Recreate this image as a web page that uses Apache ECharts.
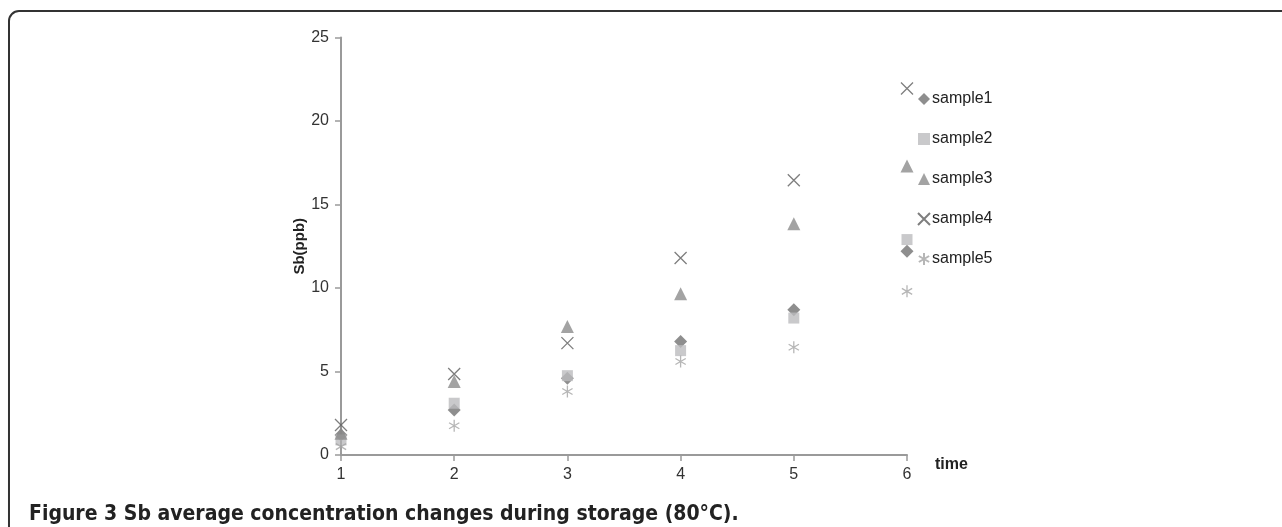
<!DOCTYPE html>
<html>
<head>
<meta charset="utf-8">
<script src="https://cdn.jsdelivr.net/npm/echarts@6/dist/echarts.min.js"></script>
<style>
html,body{margin:0;padding:0;background:#fff;}
#c{width:1282px;height:527px;}
</style>
</head>
<body>
<div id="c"></div>
<script>
const times = [1, 2, 3, 4, 5, 6];
const seriesNames = ['sample1', 'sample2', 'sample3', 'sample4', 'sample5'];
const sample1 = [1.2, 2.7, 4.6, 6.8, 8.7, 12.2];
const sample2 = [0.9, 3.1, 4.75, 6.25, 8.2, 12.9];
const sample3 = [1.3, 4.4, 7.7, 9.65, 13.85, 17.3];
const sample4 = [1.8, 4.85, 6.7, 11.8, 16.45, 21.95];
const sample5 = [0.5, 1.75, 3.8, 5.6, 6.45, 9.8];
const yTicks = [0, 5, 10, 15, 20, 25];
const caption = 'Figure 3 Sb average concentration changes during storage (80°C).';

const allValues = [sample1, sample2, sample3, sample4, sample5];
const styles = [
  {symbol: 'diamond', size: 13, itemStyle: {color: '#727272'}},
  {symbol: 'rect', size: 11, itemStyle: {color: '#bcbcbe'}},
  {symbol: 'triangle', size: 13, itemStyle: {color: '#8c8c8c'}},
  {symbol: 'path://M0,0L10,10M10,0L0,10', size: 12, itemStyle: {color: 'rgba(0,0,0,0)', borderColor: '#5e5e5e', borderWidth: 1.3}},
  {symbol: 'path://M5,0L5,10M0.7,2.5L9.3,7.5M0.7,7.5L9.3,2.5', size: 12, itemStyle: {color: 'rgba(0,0,0,0)', borderColor: '#a4a4a4', borderWidth: 1.3}}
];

const chart = echarts.init(document.getElementById('c'), null, {renderer: 'canvas'});
const font = 'Liberation Sans, Arial, sans-serif';
chart.setOption({
  animation: false,
  backgroundColor: '#fff',
  grid: {left: 341, right: 375, top: 37.5, bottom: 72, containLabel: false},
  xAxis: {
    type: 'value', min: 1, max: 6, interval: 1,
    name: 'time', nameLocation: 'end', nameGap: 28,
    nameTextStyle: {fontFamily: font, fontWeight: 'bold', fontSize: 16, color: '#222', verticalAlign: 'top', padding: [2, 0, 0, 0]},
    axisLine: {lineStyle: {color: '#9a9a9a', width: 2}},
    axisTick: {show: true, length: 6, lineStyle: {color: '#9a9a9a', width: 1.5}},
    axisLabel: {fontFamily: font, fontSize: 16, color: '#333', margin: 12},
    splitLine: {show: false}
  },
  yAxis: {
    type: 'value', min: yTicks[0], max: yTicks[yTicks.length - 1], interval: 5,
    name: 'Sb(ppb)', nameLocation: 'middle', nameGap: 34, nameRotate: 90,
    nameTextStyle: {fontFamily: font, fontWeight: 'bold', fontSize: 15, color: '#222'},
    axisLine: {show: true, lineStyle: {color: '#9a9a9a', width: 2}},
    axisTick: {show: true, length: 6, lineStyle: {color: '#9a9a9a', width: 1.5}},
    axisLabel: {fontFamily: font, fontSize: 16, color: '#333', margin: 12},
    splitLine: {show: false}
  },
  legend: {
    orient: 'vertical', left: 912, top: 86, itemGap: 24,
    itemWidth: 12, itemHeight: 12,
    textStyle: {fontFamily: font, fontSize: 16, color: '#222', padding: [0, 0, 0, -3]},
    data: seriesNames
  },
  title: {
    text: caption, left: 24, top: 499,
    textStyle: {fontFamily: 'Liberation Sans Narrow, DejaVu Sans Condensed, sans-serif', fontWeight: 'bold', fontSize: 21, color: '#222'}
  },
  graphic: [{
    type: 'rect', silent: true,
    shape: {x: 9, y: 11, width: 1400, height: 700, r: 10},
    style: {fill: 'none', stroke: '#333', lineWidth: 2}
  }],
  series: seriesNames.map((n, i) => ({
    name: n, type: 'scatter',
    symbol: styles[i].symbol, symbolSize: styles[i].size, symbolKeepAspect: true,
    itemStyle: styles[i].itemStyle,
    data: times.map((t, j) => [t, allValues[i][j]])
  }))
});
</script>
</body>
</html>
